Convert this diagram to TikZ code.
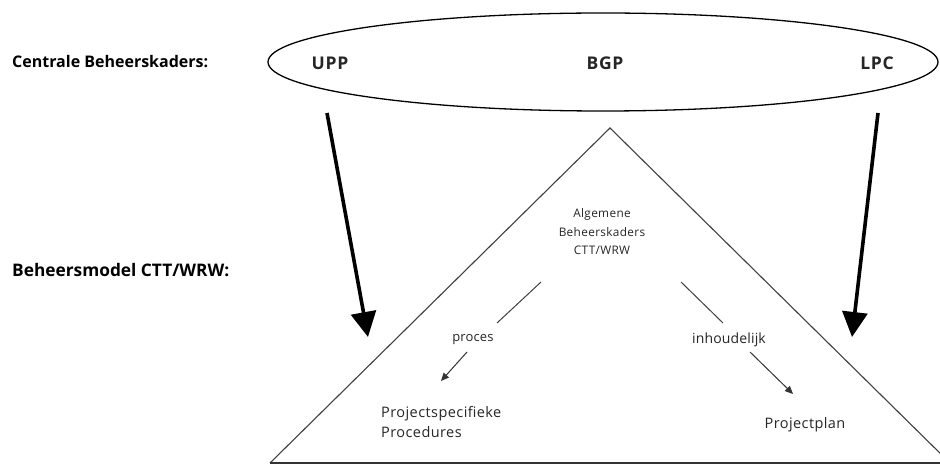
\documentclass[tikz,border=0pt]{standalone}
\usepackage{fontspec}
\setmainfont{Open Sans}
\usetikzlibrary{arrows.meta,shapes.geometric}
\begin{document}
\begin{tikzpicture}[x=1pt,y=-1pt,
  sidelabel/.style={font=\fontsize{16}{18}\selectfont\bfseries, anchor=west, inner sep=0},
  framework/.style={font=\fontsize{17.5}{20}\selectfont\bfseries\addfontfeature{LetterSpace=4}, text=black!85, inner sep=0},
  inner/.style={font=\fontsize{13.5}{16}\selectfont\addfontfeature{LetterSpace=2}, text=black!85, inner sep=1pt},
  edge/.style={line width=1.1pt, draw=black!75},
  bigarrow/.style={line width=3.6pt, -{Triangle[length=25pt,width=25pt]}},
  smallarrow/.style={line width=1pt, draw=black!80, -{Triangle[length=8pt,width=7pt]}}]
\useasboundingbox (0,0) rectangle (940,465);
\clip (0,0) rectangle (940,465);
\fill[white] (0,0) rectangle (940,465);

% side captions
\node[sidelabel] (central) at (12,62) {Centrale Beheerskaders:};
\node[sidelabel, font=\fontsize{17.3}{19}\selectfont\bfseries] (model) at (12,270) {Beheersmodel CTT/WRW:};

% central frameworks
\node[ellipse, draw, line width=1.3pt, minimum width=670pt, minimum height=98pt, inner sep=0] (frame) at (603,62) {};
\node[framework] (upp) at (330,63) {UPP};
\node[framework] (bgp) at (605,63) {BGP};
\node[framework] (lpc) at (877,63) {LPC};

% management model triangle
\coordinate (apex) at (610,128);
\coordinate (bl) at (270,463);
\coordinate (br) at (950,463);
\draw[edge] (bl) -- (apex) -- (br);
\draw[line width=1.6pt, draw=black!80] (bl) -- (br);

\node[inner, align=center, font=\fontsize{11.8}{18.5}\selectfont\addfontfeature{LetterSpace=3}] (general) at (602,232) {Algemene\\Beheerskaders\\CTT/WRW};

% thick arrows from the frameworks
\coordinate (uppfoot) at (327,113);
\coordinate (upptip) at (368,337);
\coordinate (lpcfoot) at (878,113);
\coordinate (lpctip) at (852,337);
\draw[bigarrow] (uppfoot) -- (upptip);
\draw[bigarrow] (lpcfoot) -- (lpctip);

% process branch
\coordinate (pstart) at (541,282);
\node[inner, font=\fontsize{13}{16}\selectfont\addfontfeature{LetterSpace=1}] (proces) at (473,340) {proces};
\coordinate (ptip) at (441,381);
\draw[edge, line width=1pt] (pstart) -- (497,323);
\draw[smallarrow] (467,352) -- (ptip);
\node[inner, align=left, anchor=west, font=\fontsize{14.5}{20}\selectfont\addfontfeature{LetterSpace=3}] (procedures) at (380,422) {Projectspecifieke\\Procedures};

% content branch
\coordinate (istart) at (681,282);
\node[inner, font=\fontsize{14}{16}\selectfont\addfontfeature{LetterSpace=1}] (inhoud) at (729,340) {inhoudelijk};
\coordinate (itip) at (793,394);
\draw[edge, line width=1pt] (istart) -- (723,323);
\draw[smallarrow] (750,352) -- (itip);
\node[inner, font=\fontsize{14.5}{16}\selectfont\addfontfeature{LetterSpace=3}] (plan) at (805,425) {Projectplan};
\end{tikzpicture}
\end{document}
